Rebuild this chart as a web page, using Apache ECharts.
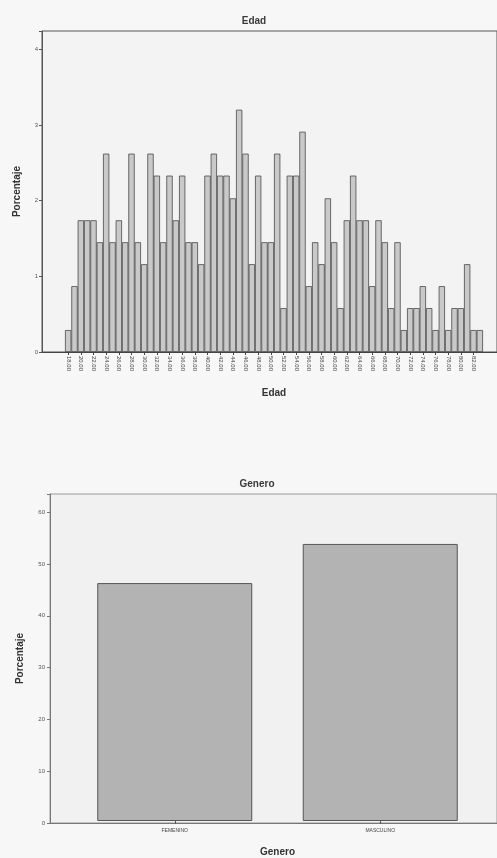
<!DOCTYPE html>
<html>
<head>
<meta charset="utf-8">
<script src="https://cdn.jsdelivr.net/npm/echarts@6/dist/echarts.min.js"></script>
<style>
html,body{margin:0;padding:0;background:#f7f7f7;}
#c{width:497px;height:858px;}
</style>
</head>
<body>
<div id="c"></div>
<script>
// ---- Data: Edad ----
const edadLabels = ["18.00","19.00","20.00","21.00","22.00","23.00","24.00","25.00","26.00","27.00","28.00","29.00","30.00","31.00","32.00","33.00","34.00","35.00","36.00","37.00","38.00","39.00","40.00","41.00","42.00","43.00","44.00","45.00","46.00","47.00","48.00","49.00","50.00","51.00","52.00","53.00","54.00","55.00","56.00","57.00","58.00","59.00","60.00","61.00","62.00","63.00","64.00","65.00","66.00","67.00","68.00","69.00","70.00","71.00","72.00","73.00","74.00","75.00","76.00","77.00","78.00","79.00","80.00","81.00","82.00","83.00"];
const edadPct = [0.29,0.87,1.74,1.74,1.74,1.45,2.62,1.45,1.74,1.45,2.62,1.45,1.16,2.62,2.33,1.45,2.33,1.74,2.33,1.45,1.45,1.16,2.33,2.62,2.33,2.33,2.03,3.20,2.62,1.16,2.33,1.45,1.45,2.62,0.58,2.33,2.33,2.91,0.87,1.45,1.16,2.03,1.45,0.58,1.74,2.33,1.74,1.74,0.87,1.74,1.45,0.58,1.45,0.29,0.58,0.58,0.87,0.58,0.29,0.87,0.29,0.58,0.58,1.16,0.29,0.29];
const edadTicks = [0,1,2,3,4];

// ---- Data: Genero ----
const generoLabels = ["FEMENINO","MASCULINO"];
const generoPct = [46.2,53.8];
const generoTicks = [0,10,20,30,40,50,60];

const FONT = "'Liberation Sans', Arial, sans-serif";
const chart = echarts.init(document.getElementById('c'));

const intFmt = ticks => v => ticks.indexOf(Math.round(v*100)/100) >= 0 ? String(v) : '';
const titleStyle = {fontFamily:FONT, fontSize:10, fontWeight:'bold', color:'#3a3a3a'};
const nameStyle = {fontFamily:FONT, fontSize:10, fontWeight:'bold', color:'#333'};

chart.setOption({
  backgroundColor: '#f7f7f7',
  animation: false,
  title: [
    {text:'Edad', left:254, top:16, padding:0, textAlign:'center', textStyle:titleStyle},
    {text:'Genero', left:257, top:479, padding:0, textAlign:'center', textStyle:titleStyle}
  ],
  grid: [
    {left:42, right:-3, top:31, bottom:506, show:true, backgroundColor:'#f3f3f3', borderColor:'#555', borderWidth:1},
    {left:65, right:14, top:31, bottom:506},
    {left:50, right:-3, top:494, bottom:35, show:true, backgroundColor:'#f1f1f1', borderColor:'#999', borderWidth:1},
    {left:72, right:14, top:494, bottom:35}
  ],
  xAxis: [
    {gridIndex:0, type:'value', min:0, max:1, axisLine:{show:true, lineStyle:{color:'#444'}}, axisTick:{show:false}, axisLabel:{show:false}, splitLine:{show:false}},
    {gridIndex:1, type:'category', data:edadLabels, boundaryGap:true,
      name:'Edad', nameLocation:'middle', nameGap:36, nameTextStyle:nameStyle,
      axisLine:{show:false}, axisTick:{show:true, alignWithLabel:true, length:3, lineStyle:{color:'#444'}},
      axisLabel:{interval:1, rotate:-90, fontFamily:FONT, fontSize:6, color:'#444', margin:4}},
    {gridIndex:2, type:'value', min:0, max:1, axisLine:{show:true, lineStyle:{color:'#777'}}, axisTick:{show:false}, axisLabel:{show:false}, splitLine:{show:false}},
    {gridIndex:3, type:'category', data:generoLabels, boundaryGap:true,
      name:'Genero', nameLocation:'middle', nameGap:26, nameTextStyle:nameStyle,
      axisLine:{show:false}, axisTick:{show:true, alignWithLabel:true, length:3, lineStyle:{color:'#555'}},
      axisLabel:{fontFamily:FONT, fontSize:5, color:'#444', margin:7}}
  ],
  yAxis: [
    {gridIndex:0, type:'value', min:0, max:4.24, interval:1,
      name:'Porcentaje', nameLocation:'middle', nameGap:20, nameRotate:90, nameTextStyle:nameStyle,
      axisLine:{show:true, lineStyle:{color:'#555'}}, axisTick:{show:true, length:3, lineStyle:{color:'#555'}},
      axisLabel:{fontFamily:FONT, fontSize:6, color:'#555', margin:4, formatter:intFmt(edadTicks)},
      splitLine:{show:false}},
    {gridIndex:1, type:'value', min:0, max:4.24, show:false, splitLine:{show:false}},
    {gridIndex:2, type:'value', min:0, max:63.5, interval:10,
      name:'Porcentaje', nameLocation:'middle', nameGap:25, nameRotate:90, nameTextStyle:nameStyle,
      axisLine:{show:true, lineStyle:{color:'#777'}}, axisTick:{show:true, length:3, lineStyle:{color:'#777'}},
      axisLabel:{fontFamily:FONT, fontSize:6, color:'#555', margin:5, formatter:intFmt(generoTicks)},
      splitLine:{show:false}},
    {gridIndex:3, type:'value', min:0, max:63.5, show:false, splitLine:{show:false}}
  ],
  series: [
    {type:'bar', xAxisIndex:1, yAxisIndex:1, data:edadPct, barCategoryGap:'0%',
      itemStyle:{color:'#c9c9c9', borderColor:'#4a4a4a', borderWidth:0.8}},
    {type:'bar', xAxisIndex:3, yAxisIndex:3, data:generoPct, barWidth:155,
      itemStyle:{color:'#b3b3b3', borderColor:'#555', borderWidth:1}}
  ]
});
</script>
</body>
</html>
